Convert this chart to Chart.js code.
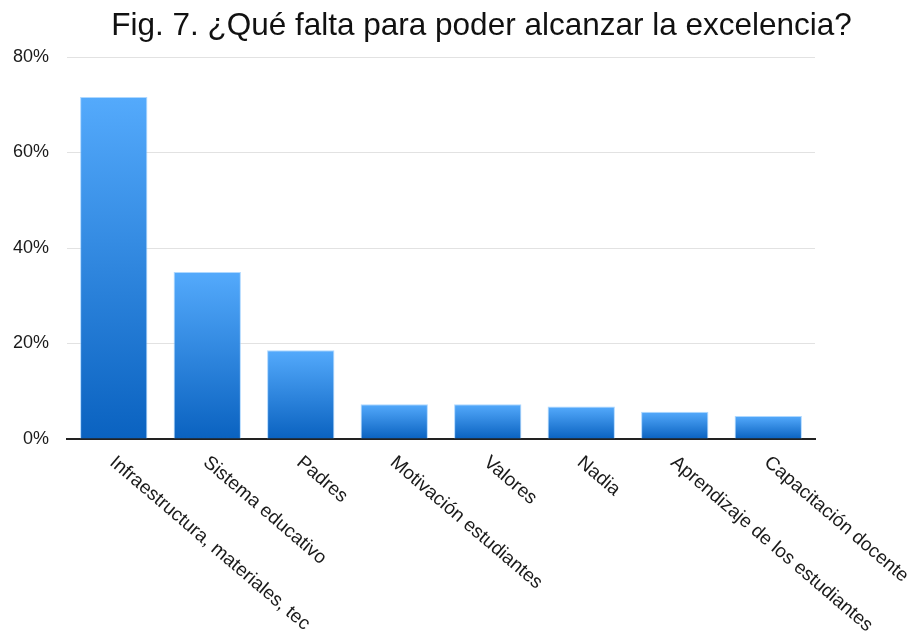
<!DOCTYPE html>
<html>
<head>
<meta charset="utf-8">
<script src="https://cdn.jsdelivr.net/npm/chart.js@4"></script>
<style>
  html, body { margin: 0; padding: 0; background: #fff; }
  #wrap { width: 917px; height: 634px; }
</style>
</head>
<body>
<div id="wrap"><canvas id="myChart"></canvas></div>
<script>
const categories = ['Infraestructura, materiales, tec', 'Sistema educativo', 'Padres',
    'Motivación estudiantes', 'Valores', 'Nadia', 'Aprendizaje de los estudiantes', 'Capacitación docente'];
const values = [71.6, 35.0, 18.6, 7.3, 7.3, 6.8, 5.7, 4.8];
const yTicks = [0, 20, 40, 60, 80];
const titleText = 'Fig. 7. ¿Qué falta para poder alcanzar la excelencia?';

const FONT = "Arial, 'Liberation Sans', sans-serif";

// gradient per bar, light on top, dark at the base
function barFill(ctx) {
    const chart = ctx.chart;
    const y = chart.scales.y;
    if (!chart.chartArea || !y || ctx.raw == null) return '#3a8ee6';
    const top = y.getPixelForValue(ctx.raw);
    const base = y.getPixelForValue(0);
    const g = chart.ctx.createLinearGradient(0, top, 0, base);
    g.addColorStop(0, 'rgb(84,170,252)');
    g.addColorStop(1, 'rgb(10,98,192)');
    return g;
}

// draws title and the slanted category labels
const textPlugin = {
    id: 'textPlugin',
    afterDraw(chart) {
        const c = chart.ctx;
        const x = chart.scales.x;
        c.save();
        c.fillStyle = '#111';
        c.font = '31.5px ' + FONT;
        c.textAlign = 'center';
        c.textBaseline = 'alphabetic';
        c.fillText(titleText, 481.5, 35);

        c.font = '19px ' + FONT;
        c.fillStyle = '#1a1a1a';
        c.textAlign = 'left';
        const ang = 40.5 * Math.PI / 180;
        categories.forEach((lab, i) => {
            const px = x.getPixelForTick(i);
            c.save();
            c.translate(px - 5, chart.chartArea.bottom + 25);
            c.rotate(ang);
            c.fillText(lab, 0, 0);
            c.restore();
        });
        c.restore();
    }
};

const data = {
    labels: categories,
    datasets: [{
        data: values,
        backgroundColor: barFill,
        borderColor: 'rgba(140,200,255,0.7)',
        borderWidth: 1,
        categoryPercentage: 1,
        barPercentage: 0.72,
    }],
};

const config = {
    type: 'bar',
    data: data,
    options: {
        responsive: false,
        animation: false,
        layout: { padding: { left: 0, top: 57, right: 102, bottom: 195 } },
        plugins: {
            legend: { display: false },
            tooltip: { enabled: false },
            title: { display: false },
        },
        scales: {
            x: {
                grid: { display: false, drawTicks: false },
                border: { display: true, color: '#222', width: 2 },
                ticks: { display: false },
            },
            y: {
                min: 0,
                max: 80,
                afterFit: (s) => { s.width = 67; },
                afterBuildTicks: (s) => { s.ticks = yTicks.map(v => ({ value: v })); },
                grid: { color: '#e2e2e2', lineWidth: 1, drawTicks: false },
                border: { display: false },
                ticks: {
                    padding: 18,
                    color: '#1a1a1a',
                    font: { family: FONT, size: 18 },
                    callback: (v) => v + '%',
                },
            },
        },
    },
    plugins: [textPlugin],
};

const cv = document.getElementById('myChart');
cv.width = 917;
cv.height = 634;
const myChart = new Chart(cv.getContext('2d'), config);
</script>
</body>
</html>
